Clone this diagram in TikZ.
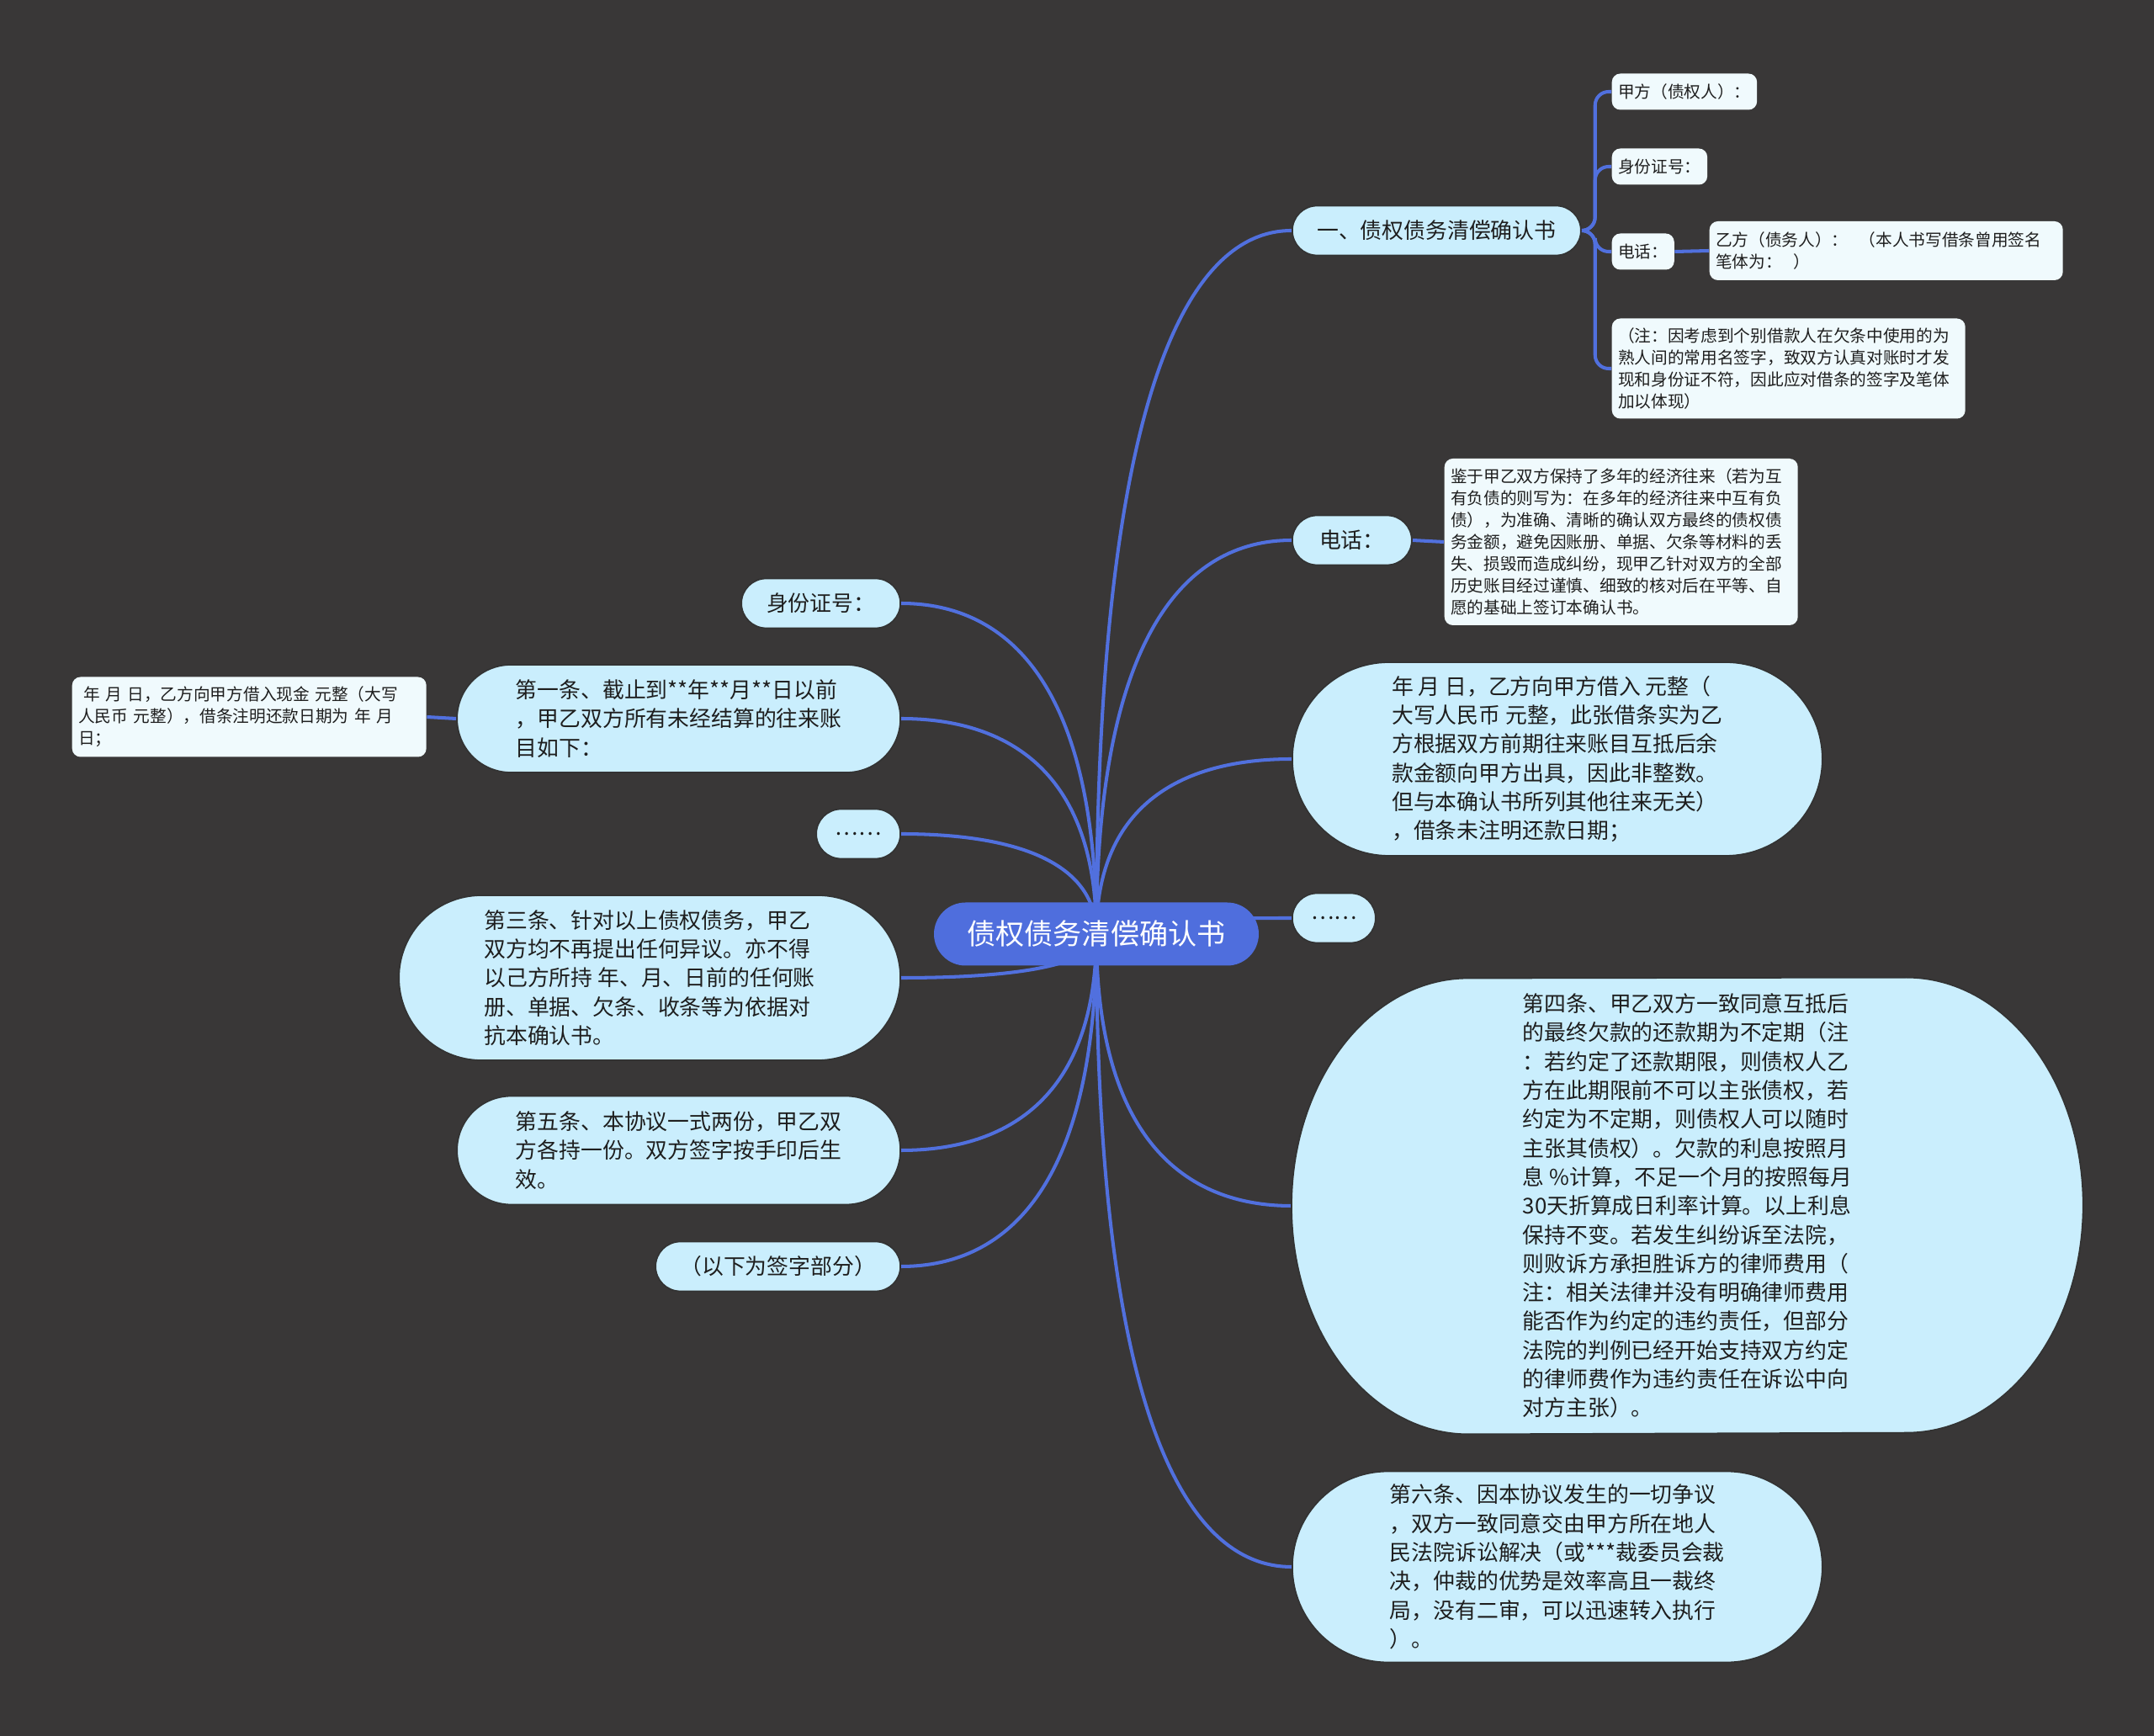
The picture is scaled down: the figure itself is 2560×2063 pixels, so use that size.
\documentclass[tikz,border=0pt]{standalone}
\usepackage{fontspec}
\setmainfont{Noto Sans CJK SC}
\usetikzlibrary{calc}
\pgfdeclarelayer{bg}
\pgfdeclarelayer{background}
\pgfsetlayers{bg,background,main}
\definecolor{canvas}{HTML}{393737}
\definecolor{linkblue}{HTML}{5170DE}
\definecolor{rootblue}{HTML}{4F6EDD}
\definecolor{topicfill}{HTML}{CAEEFD}
\definecolor{notefill}{HTML}{F0FAFD}
\definecolor{ink}{HTML}{1E1E1E}

\begin{document}
\begin{tikzpicture}[x=0.1mm,y=-0.1mm,
    link/.style={draw=linkblue,line width=1.15pt},
    root/.style={fill=rootblue,text=white,rounded corners=3.75mm,minimum width=38.6mm,minimum height=7.5mm,inner sep=0pt,font=\fontsize{9.7}{12}\selectfont},
    topic/.style={fill=topicfill,draw=black!80,line width=0.5pt,text=ink,align=left,inner sep=0pt,minimum height=5.9mm,rounded corners=2.95mm,font=\fontsize{7.35}{9.76}\selectfont},
    note/.style={fill=notefill,text=ink,align=left,inner xsep=0.75mm,inner ysep=0pt,minimum height=4.3mm,rounded corners=1mm,font=\fontsize{5.6}{7.4}\selectfont}]
    \useasboundingbox (0,0) rectangle (2560,2063);
    \begin{pgfonlayer}{bg}
      \fill[canvas] (0,0) rectangle (2560,2063);
    \end{pgfonlayer}

    \node[root] (root) at (1303,1110) {债权债务清偿确认书};

    \node[topic,anchor=west,minimum width=34.3mm] (r1) at (1535,274) {一、债权债务清偿确认书};
    \node[topic,anchor=west,minimum width=14.2mm] (r2) at (1535,642) {电话：};
    \node[topic,anchor=west,minimum width=63mm,minimum height=23mm,rounded corners=11.5mm] (r3) at (1535,902) {年 月 日，乙方向甲方借入 元整（\\大写人民币 元整，此张借条实为乙\\方根据双方前期往来账目互抵后余\\款金额向甲方出具，因此非整数。\\但与本确认书所列其他往来无关）\\，借条未注明还款日期；};
    \node[topic,anchor=west,minimum width=9.9mm] (r4) at (1535,1091) {……};
    \node[topic,anchor=west,minimum width=93.9mm,minimum height=54.1mm,fill=none,draw=none] (r5) at (1535,1433) {第四条、甲乙双方一致同意互抵后\\的最终欠款的还款期为不定期（注\\：若约定了还款期限，则债权人乙\\方在此期限前不可以主张债权，若\\约定为不定期，则债权人可以随时\\主张其债权）。欠款的利息按照月\\息 \%计算，不足一个月的按照每月\\30天折算成日利率计算。以上利息\\保持不变。若发生纠纷诉至法院，\\则败诉方承担胜诉方的律师费用（\\注：相关法律并没有明确律师费用\\能否作为约定的违约责任，但部分\\法院的判例已经开始支持双方约定\\的律师费作为违约责任在诉讼中向\\对方主张）。};
    \node[topic,anchor=west,minimum width=63mm,minimum height=22.7mm,rounded corners=11.35mm] (r6) at (1535,1862) {第六条、因本协议发生的一切争议\\，双方一致同意交由甲方所在地人\\民法院诉讼解决（或***裁委员会裁\\决，仲裁的优势是效率高且一裁终\\局，没有二审，可以迅速转入执行\\）。};

    \node[topic,anchor=east,minimum width=18.9mm] (l1) at (1071,717) {身份证号：};
    \node[topic,anchor=east,minimum width=52.7mm,minimum height=12.8mm,rounded corners=6.4mm] (l2) at (1071,854) {第一条、截止到**年**月**日以前\\，甲乙双方所有未经结算的往来账\\目如下：};
    \node[topic,anchor=east,minimum width=10mm] (l3) at (1071,991) {……};
    \node[topic,anchor=east,minimum width=59.6mm,minimum height=19.6mm,rounded corners=9.8mm] (l4) at (1071,1162) {第三条、针对以上债权债务，甲乙\\双方均不再提出任何异议。亦不得\\以己方所持 年、月、日前的任何账\\册、单据、欠条、收条等为依据对\\抗本确认书。};
    \node[topic,anchor=east,minimum width=52.7mm,minimum height=12.9mm,rounded corners=6.45mm] (l5) at (1071,1367) {第五条、本协议一式两份，甲乙双\\方各持一份。双方签字按手印后生\\效。};
    \node[topic,anchor=east,minimum width=29.1mm] (l6) at (1071,1505) {（以下为签字部分）};

    \node[note,anchor=west] (c1) at (1915,109) {甲方（债权人）：};
    \node[note,anchor=west] (c2) at (1915,198) {身份证号：};
    \node[note,anchor=west] (c3) at (1915,299) {电话：};
    \node[note,anchor=west,text width=40.5mm,minimum height=7mm] (c3a) at (2031,298) {乙方（债务人）：\ \ （本人书写借条曾用签名\\笔体为：\ \ ）};
    \node[note,anchor=west,text width=40.5mm,minimum height=11.9mm] (c4) at (1915,438) {（注：因考虑到个别借款人在欠条中使用的为\\熟人间的常用名签字，致双方认真对账时才发\\现和身份证不符，因此应对借条的签字及笔体\\加以体现）};
    \node[note,anchor=west,text width=40.5mm,minimum height=19.8mm] (r2a) at (1716,644) {鉴于甲乙双方保持了多年的经济往来（若为互\\有负债的则写为：在多年的经济往来中互有负\\债），为准确、清晰的确认双方最终的债权债\\务金额，避免因账册、单据、欠条等材料的丢\\失、损毁而造成纠纷，现甲乙针对双方的全部\\历史账目经过谨慎、细致的核对后在平等、自\\愿的基础上签订本确认书。};
    \node[note,anchor=west,text width=40.6mm,minimum height=9.5mm] (l2a) at (85,852) {\hspace*{0.3em}年 月 日，乙方向甲方借入现金 元整（大写\\人民币 元整），借条注明还款日期为 年 月\\日；};

    \begin{pgfonlayer}{background}
      \foreach \t in {r1,r2,r3,r4,r5,r6}
        \draw[link] (root.center) .. controls ($(root.center)!0.75!(root.center |- \t.west)$) and ($(root.center |- \t.west)!0.45!(\t.west)$) .. (\t.west);
      \foreach \t in {l1,l2,l3,l4,l5,l6}
        \draw[link] (root.center) .. controls ($(root.center)!0.75!(root.center |- \t.east)$) and ($(root.center |- \t.east)!0.45!(\t.east)$) .. (\t.east);
      \foreach \c in {c1,c2,c3,c4}
        \draw[link,rounded corners=1.6mm] (r1.east) -- ++(16,0) |- (\c.west);
      \draw[link] (c3.east) -- (c3a.west);
      \draw[link] (r2.east) -- (r2a.west);
      \draw[link] (l2.west) -- (l2a.east);
      \filldraw[fill=topicfill,draw=black!80,line width=0.5pt] (r5.west) arc[start angle=180,end angle=90,x radius=21mm,y radius=27.05mm] -- ([xshift=-21mm]r5.north east) arc[start angle=90,end angle=-90,x radius=21mm,y radius=27.05mm] -- ([xshift=21mm]r5.south west) arc[start angle=270,end angle=180,x radius=21mm,y radius=27.05mm] -- cycle;
    \end{pgfonlayer}
  \end{tikzpicture}
\end{document}
